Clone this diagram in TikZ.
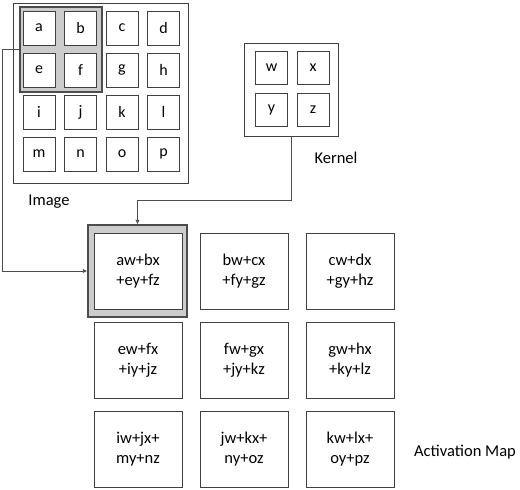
\documentclass[tikz,border=0pt]{standalone}
\usepackage{fontspec}
\setmainfont{Carlito}
\usetikzlibrary{arrows.meta}
\tikzset{
	frame/.style={draw=black!75,line width=1pt,inner sep=0pt},
	hilite/.style={draw=black!70,fill=black!20,line width=1.4pt,inner sep=0pt},
	cell/.style={draw=black!75,fill=white,line width=1pt,minimum width=32pt,minimum height=34pt,inner sep=0pt,font=\fontsize{16}{19}\selectfont},
	acell/.style={cell,minimum width=88pt,minimum height=76pt,align=center,font=\fontsize{16.5}{20}\selectfont},
	lbl/.style={font=\fontsize{16.5}{19}\selectfont},
	conn/.style={draw=black!70,line width=1pt,-{Latex[length=4.5pt,width=4.5pt]}}
}
\begin{document}
\begin{tikzpicture}[x=1pt,y=-1pt]
	\useasboundingbox (0,0) rectangle (520,490);
	\draw[frame] (13,3) rectangle (188,183);
	\node[hilite,minimum width=82pt,minimum height=85pt] (win) at (61,49.5) {};
	\foreach \t [count=\i from 0] in {a,b,c,d,e,f,g,h,i,j,k,l,m,n,o,p}
		\node[cell] (c\t) at ({39+41.5*mod(\i,4)},{28+42*floor(\i/4)}) {\t};
	\node[lbl] (limg) at (49,202) {Image};
	\node[frame,minimum width=94pt,minimum height=93pt] (kframe) at (291,89.5) {};
	\foreach \t [count=\i from 0] in {w,x,y,z}
		\node[cell,minimum height=33pt] (k\t) at ({271.5+41.5*mod(\i,2)},{67.5+42.5*floor(\i/2)}) {\t};
	\node[lbl] (lker) at (336,158) {Kernel};
	\node[hilite,minimum width=99pt,minimum height=92pt] (ahl) at (137.5,271) {};
	\foreach \t [count=\i from 0] in {{aw+bx\\+ey+fz},{bw+cx\\+fy+gz},{cw+dx\\+gy+hz},{ew+fx\\+iy+jz},{fw+gx\\+jy+kz},{gw+hx\\+ky+lz},{iw+jx+\\my+nz},{jw+kx+\\ny+oz},{kw+lx+\\oy+pz}}
		\node[acell] (a\i) at ({138+106*mod(\i,3)},{271+89*floor(\i/3)}) {\t};
	\node[lbl] (lact) at (465,452) {Activation Map};
	\draw[conn] (win.west) -- ++(-17,0) |- (ahl.west);
	\draw[conn] (kframe.south) -- ++(0,64) -| (ahl.north);
\end{tikzpicture}
\end{document}
